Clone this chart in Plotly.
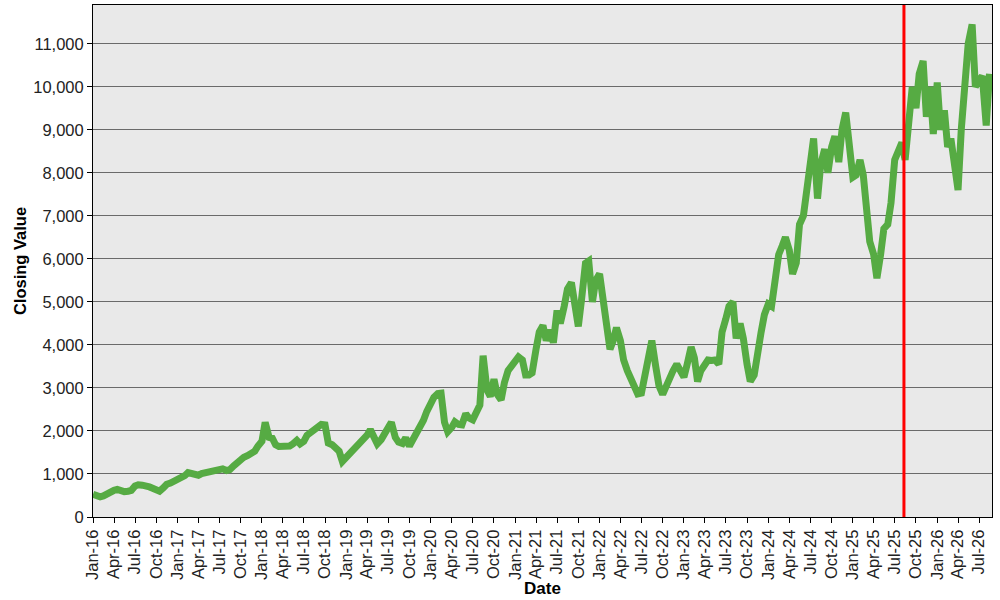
import pandas as pd
import plotly.graph_objects as go

# Semi-monthly closing values (1st and 15th of each month)
vals_2016 = [530, 500, 470, 490, 540, 590, 620, 640, 600, 590, 600, 620,
             720, 750, 740, 740, 700, 670, 640, 600, 680, 760, 790, 830]
vals_2017 = [850, 880, 960, 1030, 1010, 960, 970, 1010, 1030, 1060, 1090, 1110,
             1130, 1120, 1080, 1100, 1190, 1260, 1330, 1390, 1430, 1470, 1530, 1650]
vals_2018 = [1760, 2200, 1850, 1830, 1680, 1640, 1640, 1630, 1650, 1700, 1780, 1700,
             1760, 1900, 1970, 2050, 2120, 2150, 2140, 1720, 1680, 1620, 1530, 1290]
vals_2019 = [1380, 1470, 1580, 1660, 1720, 1790, 1900, 2030, 1870, 1700, 1800, 1950,
             2100, 2200, 1850, 1740, 1710, 1840, 1650, 1780, 1940, 2090, 2250, 2450]
vals_2020 = [2640, 2780, 2870, 2880, 2200, 1980, 2080, 2210, 2150, 2140, 2400, 2300,
             2260, 2430, 2600, 3750, 2950, 2800, 3200, 2850, 2720, 3120, 3400, 3500]
vals_2021 = [3610, 3720, 3650, 3300, 3300, 3350, 3900, 4300, 4450, 4100, 4350, 4050,
             4800, 4500, 4900, 5300, 5450, 5000, 4430, 5060, 5900, 5950, 5000, 5500]
vals_2022 = [5650, 5100, 4400, 3900, 4100, 4400, 4100, 3650, 3400, 3200, 3000, 2860,
             2880, 3300, 3700, 4100, 3500, 3050, 2850, 3050, 3250, 3400, 3550, 3400]
vals_2023 = [3250, 3550, 3950, 3700, 3150, 3400, 3550, 3650, 3640, 3650, 3550, 4300,
             4600, 4900, 5000, 4150, 4500, 4150, 3550, 3150, 3300, 3850, 4300, 4700]
vals_2024 = [4950, 4900, 5700, 6100, 6300, 6500, 6200, 5650, 5900, 6800, 7000, 7650,
             8100, 8800, 7400, 8200, 8550, 8000, 8600, 8850, 8250, 9000, 9400, 8700]
vals_2025 = [7900, 7950, 8300, 7950, 7000, 6400, 6100, 5550, 6100, 6700, 6800, 7300,
             8300, 8500, 8700, 8300, 9300, 10000, 9500, 10300, 10600, 9300, 10000, 8900]
vals_2026 = [10100, 9000, 9450, 8600, 8800, 8100, 7600, 9000, 10200, 11000, 11450, 10000,
             10150, 10250, 9100, 10300]

closing = (vals_2016 + vals_2017 + vals_2018 + vals_2019 + vals_2020 + vals_2021
           + vals_2022 + vals_2023 + vals_2024 + vals_2025 + vals_2026)
dates = pd.date_range("2016-01-01", periods=len(closing), freq="SMS")

marker_date = "2025-08-10"

fig = go.Figure(go.Scatter(
    x=dates, y=closing, mode="lines",
    line=dict(color="#56ab43", width=7),
    hoverinfo="skip",
))

fig.add_shape(type="line", xref="x", yref="paper",
              x0=marker_date, x1=marker_date, y0=0, y1=1,
              line=dict(color="#ff0000", width=3))

font = "Liberation Sans, Arial, sans-serif"
fig.update_layout(
    width=1000, height=600,
    margin=dict(l=93, r=8, t=5, b=83),
    paper_bgcolor="white",
    plot_bgcolor="#e9e9e9",
    showlegend=False,
    font=dict(family=font, color="black"),
)
fig.update_xaxes(
    range=["2016-01-01", "2026-08-26"],
    dtick="M3", tick0="2016-01-01", tickformat="%b-%y",
    tickangle=-90, tickfont=dict(size=16.5, color="#222"),
    ticks="outside", ticklen=5, tickcolor="black",
    showgrid=False, showline=True, linecolor="black", mirror=True,
    title=dict(text="<b>Date</b>", font=dict(size=17), standoff=0),
)
fig.update_yaxes(
    range=[0, 11900], dtick=1000, tickformat=",",
    tickfont=dict(size=16.5, color="#222"),
    ticks="outside", ticklen=5, tickcolor="black",
    showgrid=True, gridcolor="#6a6a6a", gridwidth=1,
    zeroline=False,
    showline=True, linecolor="black", mirror=True,
    title=dict(text="<b>Closing Value</b>", font=dict(size=16.5), standoff=2),
)

fig.write_html("out.html", config={"displayModeBar": False},
               post_script="document.body.style.margin='0';")
